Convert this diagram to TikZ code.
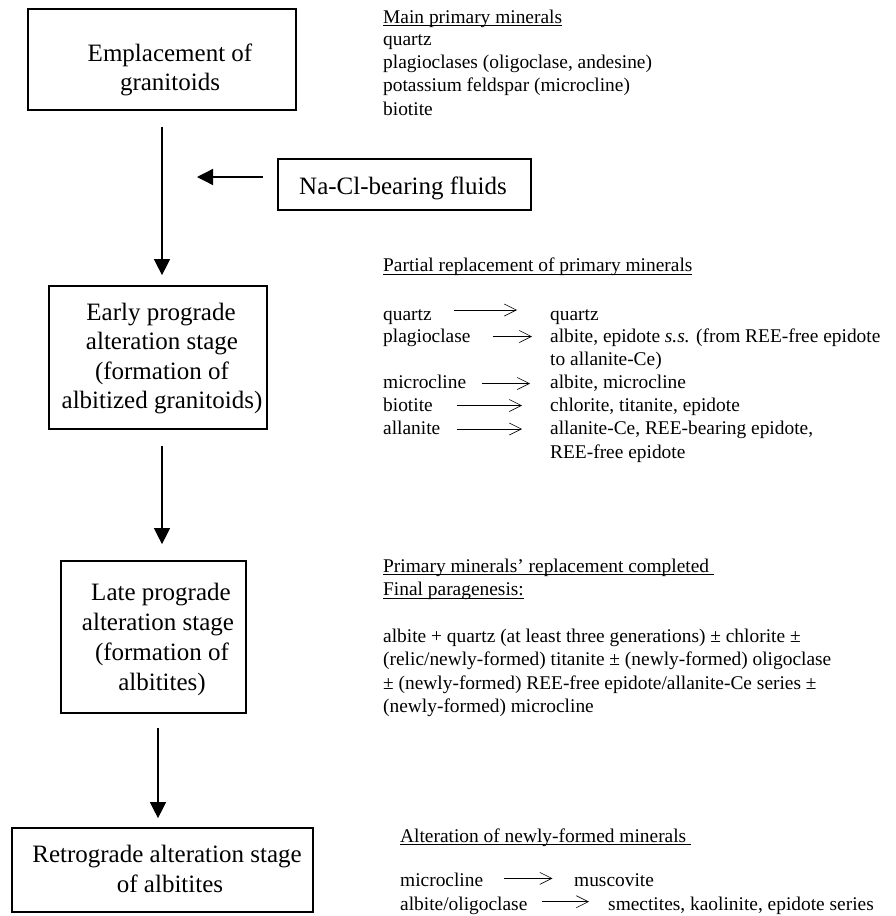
\documentclass[tikz,border=0pt]{standalone}
\usepackage{fontspec}
\setmainfont{Liberation Serif}
\usetikzlibrary{arrows.meta}
\newsavebox\ulbox
\newcommand\ulx[1]{\sbox\ulbox{#1}\rlap{\rule[-2.9pt]{\wd\ulbox}{0.9pt}}\usebox\ulbox}
\begin{document}
\begin{tikzpicture}[x=1pt,y=-1pt,
  box/.style={draw, line width=1.7pt, inner sep=0pt},
  bt/.style={anchor=base, inner sep=0pt, font=\fontsize{25}{29}\selectfont},
  rt/.style={anchor=base west, inner sep=0pt, font=\fontsize{19.4}{23}\selectfont},
  mainarr/.style={line width=1.3pt, -{Triangle[length=16pt,width=16pt]}},
  smallarr/.style={line width=0.6pt, -{Straight Barb[length=12pt,width=12pt,line width=0.6pt]}},
]
\useasboundingbox (0,0) rectangle (896,916);

% boxes
\node[box, minimum width=268pt, minimum height=101pt] (b1) at (162,59.5) {};
\node[box, minimum width=253pt, minimum height=51pt] (nacl) at (404.5,184.5) {};
\node[box, minimum width=218pt, minimum height=143pt] (b2) at (158,357.5) {};
\node[box, minimum width=185pt, minimum height=152pt] (b3) at (153.5,637) {};
\node[box, minimum width=301pt, minimum height=84pt] (b4) at (162.5,870) {};

% box texts
\node[bt] (b1a) at (170,61) {Emplacement of};
\node[bt] (b1b) at (170,90) {granitoids};
\node[bt] (nt) at (403,194) {Na-Cl-bearing fluids};
\node[bt] (b2a) at (161,320) {Early prograde};
\node[bt] (b2b) at (162,349.5) {alteration stage};
\node[bt] (b2c) at (162,379) {(formation of};
\node[bt] (b2d) at (162,408.5) {albitized granitoids)};
\node[bt] (b3a) at (161,600) {Late prograde};
\node[bt] (b3b) at (158,630) {alteration stage};
\node[bt] (b3c) at (162,660) {(formation of};
\node[bt] (b3d) at (162,690) {albitites)};
\node[bt] (b4a) at (167,862) {Retrograde alteration stage};
\node[bt] (b4b) at (170,892) {of albitites};

% main arrows
\draw[mainarr, shorten <=16pt, shorten >=10pt] (b1.south) -- (b1.south |- b2.north);
\draw[mainarr, shorten <=16pt, shorten >=16pt] ([xshift=4pt]b2.south) -- ([xshift=4pt]b2.south |- b3.north);
\draw[mainarr, shorten <=14pt, shorten >=9pt] ([xshift=4.5pt]b3.south) -- ([xshift=4.5pt]b3.south |- b4.north);
\coordinate (fs) at (263,177);
\coordinate (fe) at (197,177);
\draw[mainarr] (fs) -- (fe);

% block 1
\node[rt] (m0) at (383,23) {\ulx{Main primary minerals}};
\node[rt] (m1) at (383,45.5) {quartz};
\node[rt] (m2) at (383,68.5) {plagioclases (oligoclase, andesine)};
\node[rt] (m3) at (383,91.5) {potassium feldspar (microcline)};
\node[rt] (m4) at (383,115) {biotite};

% block 2
\node[rt] (p0) at (383,271.5) {\ulx{Partial replacement of primary minerals}};
\node[rt] (pl1) at (383,320) {quartz};
\node[rt] (pr1) at (550,320) {quartz};
\node[rt] (pl2) at (383,342) {plagioclase};
\node[rt] (pr2) at (550,342) {albite, epidote \textit{s.s.} (from REE-free epidote};
\node[rt] (pr2b) at (550,365) {to allanite-Ce)};
\node[rt] (pl3) at (383,388.5) {microcline};
\node[rt] (pr3) at (550,388.5) {albite, microcline};
\node[rt] (pl4) at (383,411) {biotite};
\node[rt] (pr4) at (550,411) {chlorite, titanite, epidote};
\node[rt] (pl5) at (383,434.5) {allanite};
\node[rt] (pr5) at (550,434.5) {allanite-Ce, REE-bearing epidote,};
\node[rt] (pr5b) at (550,458) {REE-free epidote};

\draw[smallarr] ([xshift=-96pt,yshift=10pt]pr1.base west) -- ([xshift=-33pt,yshift=10pt]pr1.base west);
\draw[smallarr] ([xshift=-57pt,yshift=5.5pt]pr2.base west) -- ([xshift=-18pt,yshift=5.5pt]pr2.base west);
\draw[smallarr] ([xshift=-68pt,yshift=5pt]pr3.base west) -- ([xshift=-20pt,yshift=5pt]pr3.base west);
\draw[smallarr] ([xshift=-93pt,yshift=5.5pt]pr4.base west) -- ([xshift=-28pt,yshift=5.5pt]pr4.base west);
\draw[smallarr] ([xshift=-93pt,yshift=5.5pt]pr5.base west) -- ([xshift=-28pt,yshift=5.5pt]pr5.base west);

% block 3
\node[rt] (f0) at (383,572) {\ulx{Primary minerals’ replacement completed }};
\node[rt] (f1) at (383,595.5) {\ulx{Final paragenesis:}};
\node[rt] (f2) at (383,642) {albite + quartz (at least three generations) ± chlorite ±};
\node[rt] (f3) at (383,665.5) {(relic/newly-formed) titanite ± (newly-formed) oligoclase};
\node[rt] (f4) at (383,689) {± (newly-formed) REE-free epidote/allanite-Ce series ±};
\node[rt] (f5) at (383,712) {(newly-formed) microcline};

% block 4
\node[rt] (r0) at (400,842) {\ulx{Alteration of newly-formed minerals }};
\node[rt] (rl1) at (400,886.7) {microcline};
\node[rt] (rr1) at (574,886.7) {muscovite};
\node[rt] (rl2) at (400,910) {albite/oligoclase};
\node[rt] (rr2) at (608,910) {smectites, kaolinite, epidote series};
\draw[smallarr] ([xshift=-70.5pt,yshift=8.3pt]rr1.base west) -- ([xshift=-21.5pt,yshift=8.3pt]rr1.base west);
\draw[smallarr] ([xshift=-66pt,yshift=8.3pt]rr2.base west) -- ([xshift=-19pt,yshift=8.3pt]rr2.base west);
\end{tikzpicture}
\end{document}
